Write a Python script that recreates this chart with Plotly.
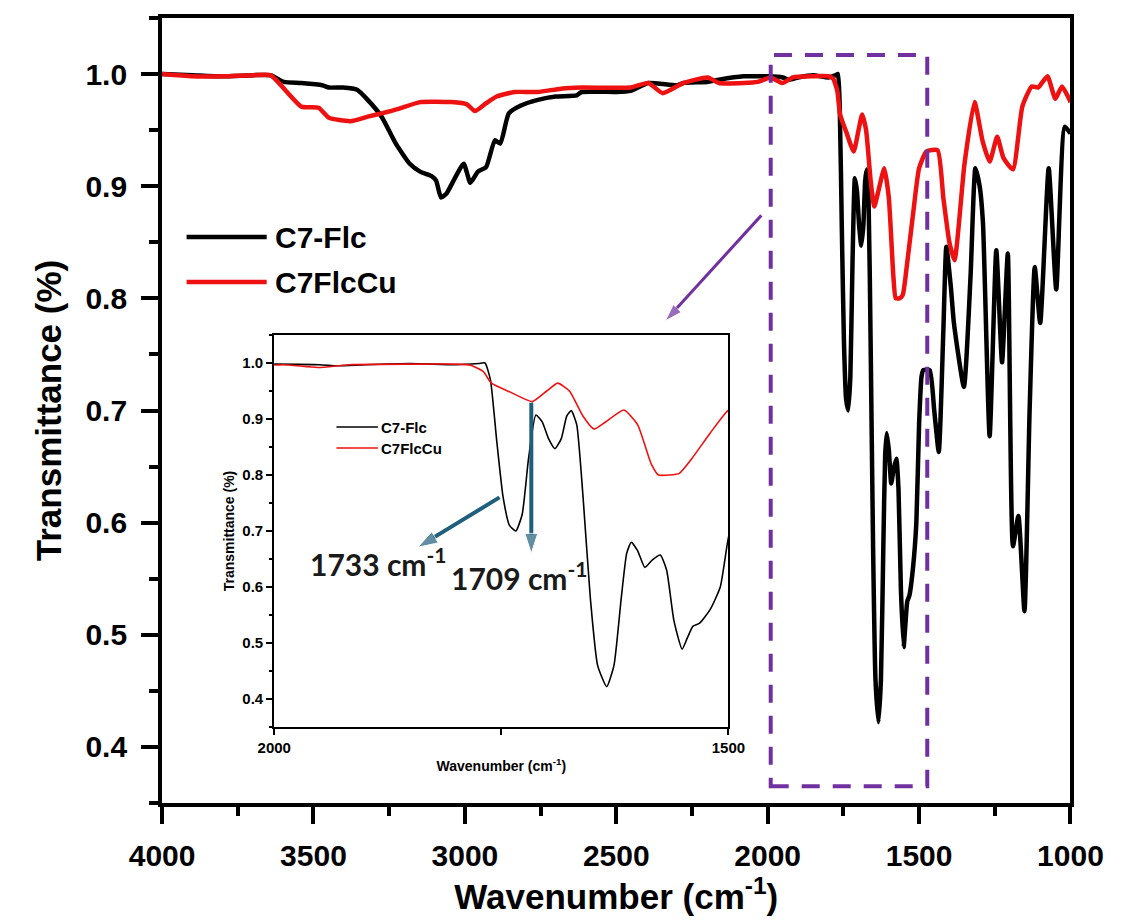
import plotly.graph_objects as go

# ---------------- data ----------------
wavenumber_flc = [4000, 3900, 3800, 3700, 3642, 3598, 3540, 3471, 3449, 3402, 3356, 3321, 3275,
                  3228, 3182, 3148, 3110, 3095, 3079, 3062, 3051, 3004, 2982, 2957, 2930, 2901,
                  2883, 2855, 2815, 2759, 2700, 2631, 2615, 2500, 2453, 2394, 2300, 2279, 2200,
                  2161, 2080, 2033, 2000, 1950, 1930, 1900, 1850, 1800, 1775, 1768, 1762, 1755,
                  1748, 1741, 1734, 1727, 1720, 1712, 1705, 1698, 1691, 1684, 1678, 1673, 1667,
                  1660, 1652, 1644, 1634, 1626, 1618, 1612, 1607, 1600, 1592, 1584, 1575, 1568,
                  1560, 1551, 1545, 1539, 1532, 1520, 1509, 1500, 1492, 1486, 1465, 1450, 1435,
                  1420, 1410, 1395, 1385, 1352, 1330, 1314, 1300, 1289, 1267, 1245, 1226, 1207,
                  1190, 1172, 1152, 1135, 1118, 1100, 1072, 1047, 1019, 1000]
transmittance_flc = [1.0, 0.999, 0.998, 0.999, 0.999, 0.993, 0.992, 0.99, 0.988, 0.988, 0.986, 0.977, 0.962,
                     0.938, 0.92, 0.913, 0.909, 0.905, 0.89, 0.893, 0.898, 0.92, 0.903, 0.913, 0.917, 0.941,
                     0.938, 0.965, 0.972, 0.977, 0.98, 0.981, 0.984, 0.984, 0.985, 0.992, 0.99, 0.992, 0.993,
                     0.995, 0.998, 0.998, 0.998, 0.997, 0.995, 0.997, 0.999, 0.997, 0.999, 1.0, 0.97, 0.86,
                     0.76, 0.71, 0.70, 0.73, 0.83, 0.907, 0.895, 0.865, 0.847, 0.865, 0.905, 0.915, 0.89,
                     0.76, 0.58, 0.46, 0.422, 0.46, 0.58, 0.66, 0.68, 0.665, 0.635, 0.648, 0.657, 0.63,
                     0.54, 0.489, 0.51, 0.53, 0.535, 0.56, 0.60, 0.688, 0.73, 0.736, 0.736, 0.70, 0.663,
                     0.77, 0.846, 0.81, 0.778, 0.721, 0.82, 0.916, 0.90, 0.867, 0.677, 0.843, 0.743, 0.84,
                     0.579, 0.606, 0.521, 0.70, 0.828, 0.778, 0.916, 0.808, 0.953, 0.947]

wavenumber_cu = [4000, 3900, 3800, 3700, 3642, 3540, 3483, 3449, 3378, 3321, 3275, 3219, 3148,
                 3044, 2993, 2967, 2930, 2895, 2836, 2759, 2683, 2615, 2453, 2394, 2347, 2279,
                 2198, 2161, 2080, 2033, 1990, 1952, 1917, 1850, 1800, 1784, 1770, 1761, 1740,
                 1716, 1700, 1688, 1675, 1660, 1648, 1635, 1615, 1600, 1585, 1577, 1565, 1554,
                 1540, 1520, 1500, 1476, 1439, 1420, 1400, 1383, 1350, 1317, 1290, 1267, 1242,
                 1221, 1190, 1159, 1128, 1107, 1076, 1050, 1028, 1003, 1000]
transmittance_cu = [1.0, 0.998, 0.998, 0.999, 0.999, 0.971, 0.97, 0.961, 0.958, 0.962, 0.965, 0.969, 0.975,
                    0.975, 0.973, 0.967, 0.974, 0.98, 0.984, 0.984, 0.987, 0.988, 0.988, 0.992, 0.983, 0.992,
                    0.997, 0.992, 0.992, 0.993, 0.997, 0.992, 0.997, 0.998, 0.998, 0.996, 0.985, 0.964, 0.948,
                    0.931, 0.95, 0.964, 0.95, 0.905, 0.882, 0.895, 0.916, 0.89, 0.82, 0.80, 0.80, 0.803,
                    0.83, 0.875, 0.916, 0.931, 0.932, 0.89, 0.85, 0.834, 0.92, 0.975, 0.94, 0.922, 0.944,
                    0.925, 0.915, 0.971, 0.989, 0.988, 0.998, 0.978, 0.989, 0.977, 0.975]

series_names = ["C7-Flc", "C7FlcCu"]
series_colors = ["#000000", "#ee1111"]
main_xticks = [4000, 3500, 3000, 2500, 2000, 1500, 1000]
inset_xticks = [2000, 1500]

# peak labels in the inset: (text, label position, arrow start, arrow end)
peak_labels = ["1733 cm<sup>-1</sup>", "1709 cm<sup>-1</sup>"]
peak_label_pos = [(1885, 0.644), (1730, 0.619)]
peak_arrow_from = [(1752, 0.760), (1717, 0.929)]
peak_arrow_to = [(1842, 0.671), (1717, 0.660)]

W, H = 1144, 923
def px(x):
    return x / W
def py(y):
    return 1 - y / H

FONT = "Liberation Sans, Arial, sans-serif"
PURPLE = "#7030a0"
TEAL = "#1f5f7d"

fig = go.Figure()
data_sets = [(wavenumber_flc, transmittance_flc), (wavenumber_cu, transmittance_cu)]
for (wx, ty), name, col in zip(data_sets, series_names, series_colors):
    fig.add_trace(go.Scatter(x=wx, y=ty, name=name, mode="lines",
                             line=dict(color=col, width=4.5, shape="spline", smoothing=0.5),
                             xaxis="x", yaxis="y", showlegend=False))
for (wx, ty), name, col in zip(data_sets, series_names, series_colors):
    fig.add_trace(go.Scatter(x=wx, y=ty, name=name, mode="lines",
                             line=dict(color=col, width=1.6, shape="spline", smoothing=0.5),
                             xaxis="x2", yaxis="y2", showlegend=False))

# pointer arrow from the dashed box to the inset (main axes)
fig.add_trace(go.Scatter(x=[2021, 2338], y=[0.874, 0.780], mode="lines+markers",
                         line=dict(color=PURPLE, width=3),
                         marker=dict(symbol="arrow", size=[0, 18], angleref="previous",
                                     color=PURPLE),
                         xaxis="x", yaxis="y", showlegend=False, hoverinfo="skip"))
# teal arrows in inset
for (x0, y0), (x1, y1) in zip(peak_arrow_from, peak_arrow_to):
    fig.add_trace(go.Scatter(x=[x0, x1], y=[y0, y1], mode="lines+markers",
                             line=dict(color=TEAL, width=4),
                             marker=dict(symbol="arrow", size=[0, 21], angleref="previous",
                                         color=TEAL),
                             xaxis="x2", yaxis="y2", showlegend=False, hoverinfo="skip"))

axis_common = dict(showline=True, linecolor="black", mirror=True, showgrid=False,
                   zeroline=False, ticks="outside", tickcolor="black")

fig.update_layout(
    width=W, height=H,
    margin=dict(l=0, r=0, t=0, b=0),
    paper_bgcolor="white", plot_bgcolor="white",
    xaxis=dict(**axis_common, domain=[px(137), px(1101)], range=[4000, 1000],
               linewidth=4, tickwidth=4, ticklen=17, tickvals=main_xticks,
               minor=dict(ticks="outside", tickvals=[3750, 3250, 2750, 2250, 1750, 1250],
                          ticklen=9, tickwidth=4, tickcolor="black"),
               tickfont=dict(family=FONT, size=30, color="black", weight="bold"),
               ticklabelstandoff=6,
               title=dict(text="Wavenumber (cm<sup>-1</sup>)", standoff=6,
                          font=dict(family=FONT, size=35, color="black", weight="bold")),
               anchor="y"),
    yaxis=dict(**axis_common, domain=[py(803), py(18)], range=[0.35, 1.05],
               linewidth=4, tickwidth=4, ticklen=17, tick0=0.4, dtick=0.1, tickformat=".1f",
               minor=dict(ticks="outside", dtick=0.05, tick0=0.35, ticklen=9, tickwidth=4,
                          tickcolor="black"),
               tickfont=dict(family=FONT, size=30, color="black", weight="bold"),
               ticklabelstandoff=8,
               title=dict(text="Transmittance (%)", standoff=14,
                          font=dict(family=FONT, size=35, color="black", weight="bold")),
               anchor="x"),
    xaxis2=dict(**axis_common, domain=[px(256), px(738)], range=[2000, 1500],
                linewidth=2, tickwidth=2, ticklen=6, tickvals=inset_xticks,
                minor=dict(ticks="outside", tickvals=[1750], ticklen=6, tickwidth=2,
                           tickcolor="black"),
                tickfont=dict(family=FONT, size=15, color="black", weight="bold"),
                title=dict(text="Wavenumber (cm<sup>-1</sup>)", standoff=6,
                           font=dict(family=FONT, size=14, color="black", weight="bold")),
                anchor="y2"),
    yaxis2=dict(**axis_common, domain=[py(727), py(335)], range=[0.35, 1.05],
                linewidth=2, tickwidth=2, ticklen=6, tick0=0.4, dtick=0.1, tickformat=".1f",
                minor=dict(ticks="outside", dtick=0.05, tick0=0.35, ticklen=3, tickwidth=2,
                           tickcolor="black"),
                tickfont=dict(family=FONT, size=15, color="black", weight="bold"),
                title=dict(text="Transmittance (%)", standoff=4,
                           font=dict(family=FONT, size=14, color="black", weight="bold")),
                anchor="x2"),
)

shapes = []
# dashed zoom box on the main plot
shapes.append(dict(type="rect", xref="x", yref="y", x0=1990, x1=1473, y0=0.365, y1=1.017,
                   line=dict(color=PURPLE, width=4, dash="18px,13px"), layer="above"))
# main legend lines
for yy, col in zip([237, 282], series_colors):
    shapes.append(dict(type="line", xref="paper", yref="paper", x0=px(163), x1=px(248),
                       y0=py(yy), y1=py(yy), line=dict(color=col, width=4.5)))
# inset legend lines
for yy, col in zip([427, 448], series_colors):
    shapes.append(dict(type="line", xref="paper", yref="paper", x0=px(322), x1=px(366),
                       y0=py(yy), y1=py(yy), line=dict(color=col, width=1.6)))
fig.update_layout(shapes=shapes)

ann = []
for yy, name in zip([237, 282], series_names):
    ann.append(dict(xref="paper", yref="paper", x=px(255), y=py(yy), text=name,
                    showarrow=False, xanchor="left", yanchor="middle",
                    font=dict(family=FONT, size=30, color="black", weight="bold")))
for yy, name in zip([427, 448], series_names):
    ann.append(dict(xref="paper", yref="paper", x=px(367), y=py(yy), text=name,
                    showarrow=False, xanchor="left", yanchor="middle",
                    font=dict(family=FONT, size=15, color="black", weight="bold")))
for txt, (lx, ly) in zip(peak_labels, peak_label_pos):
    ann.append(dict(xref="x2", yref="y2", x=lx, y=ly, text=txt, showarrow=False,
                    font=dict(family="Lato, Open Sans, sans-serif", size=30,
                              color="#1a1a1a", weight="bold")))
fig.update_layout(annotations=ann)

fig.write_html("out.html")
